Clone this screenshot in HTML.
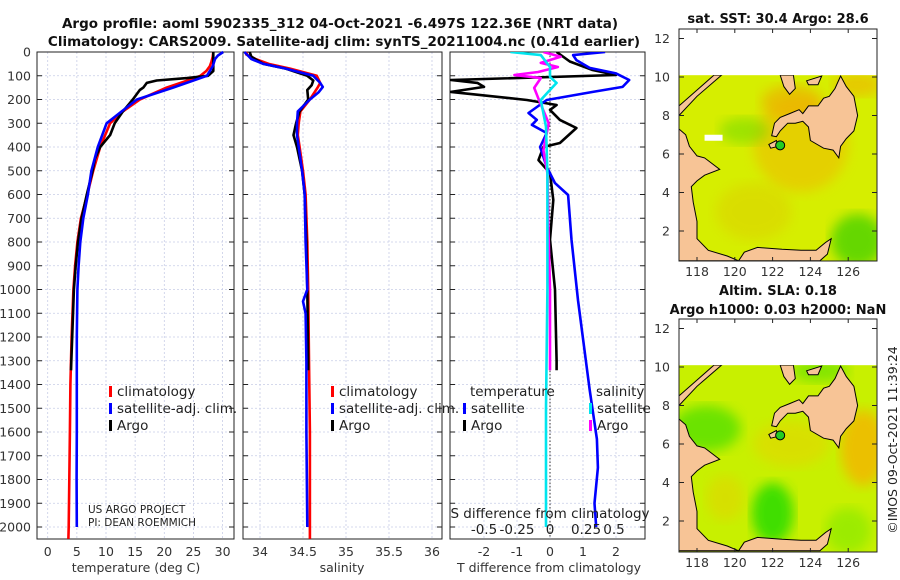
<!DOCTYPE html>
<html><head><meta charset="utf-8"><style>
html,body{margin:0;padding:0;background:#fff;}
svg{display:block;font-family:"DejaVu Sans","Liberation Sans",sans-serif;}
</style></head><body>
<svg id="fig" width="900" height="580" viewBox="0 0 900 580" xmlns="http://www.w3.org/2000/svg">
<text x="340" y="28" text-anchor="middle" font-size="13.5" font-weight="bold" fill="#111">Argo profile: aoml 5902335_312 04-Oct-2021 -6.497S 122.36E (NRT data)</text>
<text x="344" y="46" text-anchor="middle" font-size="13.5" font-weight="bold" fill="#111">Climatology: CARS2009. Satellite-adj clim: synTS_20211004.nc (0.41d earlier)</text>
<g id="panels"></g>
<g id="maps"></g>
<text transform="translate(897,440) rotate(-90)" font-size="12.5" fill="#222" text-anchor="middle">©IMOS 09-Oct-2021 11:39:24</text>
</svg>
<script>
// ---------- data ----------
const tempDepthClim = [0,20,40,60,80,100,120,150,200,250,300,400,500,600,700,800,900,1000,1200,1400,1600,1800,2000,2050];
const tempClim      = [28.4,28.3,28.1,27.8,27.2,26.2,24.0,20.4,15.8,12.9,10.7,9.0,7.8,6.8,5.7,5.1,4.7,4.4,4.1,3.9,3.8,3.7,3.6,3.55];
const tempDepthSat  = [0,15,30,60,100,120,150,200,250,300,400,500,600,700,800,900,1000,1200,1400,1600,1800,2000];
const tempSat       = [30.1,29.2,28.7,28.3,27.3,25.0,21.5,15.3,12.7,10.1,8.6,7.5,6.9,6.1,5.6,5.3,5.1,5.0,5.0,5.0,4.95,5.0];
const tempDepthArgo = [0,40,80,100,110,120,130,150,160,200,250,300,350,400,450,500,600,700,800,900,1000,1200,1340];
const tempArgo      = [28.4,28.4,28.4,27.5,23.9,18.7,17.0,16.4,15.8,14.6,12.9,11.5,10.7,9.0,8.1,7.7,6.7,5.8,5.2,4.8,4.5,4.2,4.0];

const salDepthClim = [0,10,30,50,70,100,130,150,200,250,300,350,400,500,600,800,1000,1300,1600,2000,2050];
const salClim      = [33.85,33.84,33.95,34.1,34.35,34.66,34.7,34.67,34.58,34.47,34.45,34.44,34.46,34.5,34.53,34.55,34.56,34.57,34.58,34.58,34.58];
const salDepthSat  = [0,30,50,70,100,130,147,170,200,250,300,350,400,500,600,800,1000,1050,1100,1300,1600,2000];
const salSat       = [33.82,33.9,34.04,34.3,34.62,34.7,34.73,34.68,34.58,34.44,34.43,34.43,34.45,34.49,34.52,34.53,34.55,34.5,34.53,34.54,34.54,34.55];
const salDepthArgo = [0,20,50,70,100,120,140,160,200,250,300,350,400,500,600,800,1000,1300,1340];
const salArgo      = [33.88,33.9,34.04,34.3,34.55,34.62,34.6,34.55,34.56,34.46,34.42,34.39,34.43,34.49,34.52,34.54,34.55,34.56,34.56];

const dTDepthSat  = [0,13,34,67,90,118,147,168,202,257,286,307,341,400,484,552,602,790,1045,1420,1630,1750,1900,2000];
const dTSat       = [1.67,0.7,0.8,1.2,2.0,2.4,2.2,1.3,-0.1,-0.65,-0.4,-0.55,-0.1,-0.3,-0.1,0.15,0.55,0.65,0.85,1.2,1.42,1.45,1.35,1.4];
const dTDepthArgo = [0,40,75,97,118,130,147,168,202,223,244,286,320,358,383,400,455,510,623,790,1000,1300,1340];
const dTArgo      = [0.2,0.6,1.27,2.0,-3.0,-2.2,-2.0,-3.0,-0.7,0.2,0.0,0.3,0.8,0.5,0.3,-0.2,-0.35,0.0,0.1,0.0,0.15,0.2,0.2];
const dSDepthSat  = [0,13,63,105,130,172,202,315,510,1000,1500,2000];
const dSSat       = [-0.3,-0.07,0.0,0.0,0.05,-0.02,-0.07,-0.03,-0.02,-0.02,-0.03,-0.03];
const dSDepthArgo = [0,20,46,63,84,97,110,151,193,300,413,510,790,1000,1340];
const dSArgo      = [-0.05,0.08,-0.07,0.06,-0.09,-0.27,-0.07,-0.12,-0.09,-0.01,-0.05,-0.02,-0.01,0.0,0.0];

const depthTicks = [0,100,200,300,400,500,600,700,800,900,1000,1100,1200,1300,1400,1500,1600,1700,1800,1900,2000];
const tempTicks = [0,5,10,15,20,25,30];
const salTicks = ["34","34.5","35","35.5","36"];
const dTTicks = [-2,-1,0,1,2];
const dSTicks = ["-0.5","-0.25","0","0.25","0.5"];

// ---------- helpers ----------
const NS="http://www.w3.org/2000/svg";
function mk(tag,attrs,parent){const e=document.createElementNS(NS,tag);for(const k in attrs)e.setAttribute(k,attrs[k]);parent.appendChild(e);return e;}
const Y0=52, PXD=0.2375, YB=539;
const yD = d => Y0 + d*PXD;
const panels=document.getElementById('panels');

function axesBox(x0,x1,vtickXs,name){
  const g=mk('g',{},panels);
  
  
  depthTicks.forEach(d=>{mk('line',{x1:x0,x2:x1,y1:yD(d),y2:yD(d),stroke:'#c8cde6','stroke-width':0.8,'stroke-dasharray':'2,2'},g);
    mk('line',{x1:x0,x2:x0+5,y1:yD(d),y2:yD(d),stroke:'#222'},g);mk('line',{x1:x1-5,x2:x1,y1:yD(d),y2:yD(d),stroke:'#222'},g);});
  vtickXs.forEach(x=>{mk('line',{x1:x,x2:x,y1:Y0,y2:YB,stroke:'#c8cde6','stroke-width':0.8,'stroke-dasharray':'2,2'},g);});
  mk('rect',{x:x0,y:Y0,width:x1-x0,height:YB-Y0,fill:'none',stroke:'#222','stroke-width':1},g);
  return g;
}
function line(g,xs,ds,xf,color,name,w){
  const pts=xs.map((v,i)=>xf(v).toFixed(1)+','+yD(ds[i]).toFixed(1)).join(' ');
  const p=mk('polyline',{points:pts,fill:'none',stroke:color,'stroke-width':w||2.6,'stroke-linejoin':'round'},g);
  
  
}
function txt(g,x,y,s,opt){const t=mk('text',Object.assign({x:x,y:y,'font-size':12.5,fill:'#333'},opt||{}),g);t.textContent=s;return t;}

// y tick labels
depthTicks.forEach(d=>{const t=txt(panels,31,yD(d)+4.5,String(d),{'text-anchor':'end'});
  
  });

// Panel 1 temperature
const xT = v => 47.7 + v*5.83;
const g1=axesBox(37,234,tempTicks.map(xT),'temperature-panel');
line(g1,tempClim,tempDepthClim,xT,'#ff0000','temp-climatology-line');
line(g1,tempArgo,tempDepthArgo,xT,'#000000','temp-argo-line');
line(g1,tempSat,tempDepthSat,xT,'#0000ff','temp-satellite-line');
tempTicks.forEach(v=>txt(g1,xT(v),556,String(v),{'text-anchor':'middle'}));
txt(g1,136,572,'temperature (deg C)',{'text-anchor':'middle'});
function legend(g,x,y,color,label,name){
  const r=mk('rect',{x:x,y:y-10,width:3,height:11,fill:color},g);
  
  
  const t=txt(g,x+8,y,label,{'font-size':13.5,fill:'#222'});
  
  
}
legend(g1,109,396,'#ff0000','climatology','legend-climatology');
legend(g1,109,413,'#0000ff','satellite-adj. clim.','legend-satellite');
legend(g1,109,430,'#000000','Argo','legend-argo');
txt(g1,88,513,'US ARGO PROJECT',{'font-size':10.5,fill:'#222'});
txt(g1,88,526,'PI: DEAN ROEMMICH',{'font-size':10.5,fill:'#222'});

// Panel 2 salinity
const xS = v => 260 + (v-34)*86;
const g2=axesBox(243,442,salTicks.map(s=>xS(+s)),'salinity-panel');
line(g2,salClim,salDepthClim,xS,'#ff0000','sal-climatology-line');
line(g2,salArgo,salDepthArgo,xS,'#000000','sal-argo-line');
line(g2,salSat,salDepthSat,xS,'#0000ff','sal-satellite-line');
salTicks.forEach(v=>txt(g2,xS(+v),556,v,{'text-anchor':'middle'}));
txt(g2,342,572,'salinity',{'text-anchor':'middle'});
legend(g2,331,396,'#ff0000','climatology','legend-climatology-2');
legend(g2,331,413,'#0000ff','satellite-adj. clim.','legend-satellite-2');
legend(g2,331,430,'#000000','Argo','legend-argo-2');

// Panel 3 differences
const xdT = v => 550 + v*33;
const xdS = v => 550 + v*132;
const g3=axesBox(450,645,dTTicks.map(xdT),'difference-panel');
const zl=mk('line',{x1:550,x2:550,y1:Y0,y2:YB,stroke:'#333','stroke-width':1,'stroke-dasharray':'1.5,2'},g3);


const clip=mk('clipPath',{id:'c3'},g3);mk('rect',{x:450,y:Y0,width:195,height:YB-Y0},clip);
const g3c=mk('g',{'clip-path':'url(#c3)'},g3);
line(g3c,dTArgo,dTDepthArgo,xdT,'#000000','dT-argo-line');
line(g3c,dTSat,dTDepthSat,xdT,'#0000ff','dT-satellite-line');
line(g3c,dSArgo,dSDepthArgo,xdS,'#ff00ff','dS-argo-line');
line(g3c,dSSat,dSDepthSat,xdS,'#00e5ee','dS-satellite-line');
dTTicks.forEach(v=>txt(g3,xdT(v),556,String(v),{'text-anchor':'middle'}));
txt(g3,549,572,'T difference from climatology',{'text-anchor':'middle'});
txt(g3,550,518,'S difference from climatology',{'text-anchor':'middle','font-size':13.5,fill:'#222'});
dSTicks.forEach((v,i)=>txt(g3,[484,517,550,586,614][i],534,v,{'text-anchor':'middle','font-size':13.5,fill:'#222'}));
txt(g3,470,396,'temperature',{'font-size':13.5,fill:'#222'});
txt(g3,596,396,'salinity',{'font-size':13.5,fill:'#222'});
legend(g3,463,413,'#0000ff','satellite','legend-t-satellite');
legend(g3,463,430,'#000000','Argo','legend-t-argo');
legend(g3,589,413,'#00e5ee','satellite','legend-s-satellite');
legend(g3,589,430,'#ff00ff','Argo','legend-s-argo');

// ---------- maps ----------
const maps=document.getElementById('maps');
const landPolys=[
 [[117.05,8.0],[117.05,8.5],[118.9,10.1],[119.3,10.1],[118.0,9.0]],
 [[117.05,7.3],[117.4,7.0],[117.6,6.4],[118.0,5.9],[118.4,5.8],[119.2,5.2],[118.4,4.9],[118.0,4.6],[117.7,4.3],[117.8,3.5],[118.0,2.5],[118.0,1.6],[118.6,1.0],[119.6,0.7],[120.2,0.45],[117.05,0.45]],
 [[120.2,0.45],[120.5,0.9],[121.2,1.15],[122.5,1.05],[123.5,1.0],[124.3,1.0],[124.8,1.4],[125.1,1.6],[124.9,0.8],[124.5,0.45]],
 [[121.95,6.95],[122.1,7.6],[122.4,7.9],[122.9,8.1],[123.4,8.3],[123.6,8.1],[123.9,8.5],[124.4,8.5],[124.7,8.9],[125.0,9.0],[125.3,9.4],[125.6,10.05],[125.9,9.5],[126.3,9.0],[126.5,8.0],[126.3,7.2],[125.9,6.8],[125.6,6.4],[125.5,5.8],[125.2,6.2],[124.7,6.3],[124.0,6.7],[123.9,7.4],[123.6,7.7],[123.2,7.6],[122.8,7.6],[122.4,7.2],[122.2,6.9]],
 [[122.4,10.1],[122.6,9.5],[122.9,9.1],[123.2,9.4],[123.1,10.1]],
 [[123.8,9.8],[124.6,10.05],[124.4,9.6],[123.9,9.6]],
 [[121.8,6.5],[122.2,6.7],[122.3,6.4],[121.9,6.3]]
];
const mapSpecs=[
 {name:'sst-map',y10:77,top:29,bottom:261,base:'#d6ee00',blobs:[['#f0b800',123.5,6.5,2.5,2.5,0.55],['#f0a800',123,8.7,1.6,0.9,0.6],['#f0b000',126.5,9.6,1.3,0.6,0.6],['#40d000',126.5,1.5,1.4,1.4,0.75],['#66d800',120.5,7.2,1.3,0.7,0.5],['#e0c000',121,3,2,1.5,0.35]]},
 {name:'sla-map',y10:367,top:319,bottom:552,base:'#c8f000',blobs:[['#33dd00',122,2.4,1.1,1.6,0.9],['#55e000',118.5,6.8,1.8,1.2,0.8],['#f2b800',126.8,5.8,1.2,2.0,0.85],['#e8d000',123,6,2,1.2,0.5],['#66e000',124.5,9.8,1.5,0.6,0.7],['#e8cc00',119.5,3.2,1,1.2,0.45],['#80e800',126,1.5,1.2,1.2,0.6]]}
];
const mx = lon => 697 + (lon-118)*18.9;
mapSpecs.forEach((m,mi)=>{
  const g=mk('g',{},maps);
  
  
  const my = lat => m.y10 + (10-lat)*19.25;
  const cid='mc'+mi;
  const cp=mk('clipPath',{id:cid},g);mk('rect',{x:679,y:my(10.1),width:198,height:m.bottom-my(10.1)},cp);
  const gd=mk('g',{'clip-path':'url(#'+cid+')'},g);
  mk('rect',{x:679,y:my(10.1),width:198,height:m.bottom-my(10.1),fill:m.base},gd);
  const f=mk('filter',{id:'bl'+mi},g);mk('feGaussianBlur',{stdDeviation:6},f);
  m.blobs.forEach(b=>mk('ellipse',{cx:mx(b[1]),cy:my(b[2]),rx:b[3]*19,ry:b[4]*19,fill:b[0],opacity:b[5],filter:'url(#bl'+mi+')'},gd));
  landPolys.forEach(p=>{const el=mk('polygon',{points:p.map(q=>mx(q[0]).toFixed(1)+','+my(q[1]).toFixed(1)).join(' '),fill:'#f7c496',stroke:'#000','stroke-width':1},gd);
    
    });
  if(mi===0) mk('rect',{x:mx(118.4),y:my(7),width:18,height:6,fill:'#fff'},gd);
  const pt=mk('circle',{cx:mx(122.4),cy:my(6.45),r:4.5,fill:'#22cc22',stroke:'#000','stroke-width':1},g);
  
  
  mk('rect',{x:679,y:m.top,width:198,height:m.bottom-m.top,fill:'none',stroke:'#222'},g);
  [2,4,6,8,10,12].forEach(l=>{mk('line',{x1:679,x2:684,y1:my(l),y2:my(l),stroke:'#222'},g);mk('line',{x1:872,x2:877,y1:my(l),y2:my(l),stroke:'#222'},g);
    txt(g,670,my(l)+4.5,String(l),{'text-anchor':'end'});});
  [118,120,122,124,126].forEach(l=>{mk('line',{x1:mx(l),x2:mx(l),y1:m.bottom,y2:m.bottom-4,stroke:'#222'},g);mk('line',{x1:mx(l),x2:mx(l),y1:m.top,y2:m.top+4,stroke:'#222'},g);
    txt(g,mx(l),m.bottom+15,String(l),{'text-anchor':'middle'});});
});
const t1=txt(maps,778,23,'sat. SST: 30.4 Argo: 28.6',{'text-anchor':'middle','font-weight':'bold','font-size':13,fill:'#111'});


const t2=txt(maps,778,295,'Altim. SLA: 0.18',{'text-anchor':'middle','font-weight':'bold','font-size':13,fill:'#111'});


const t3=txt(maps,778,314,'Argo h1000: 0.03 h2000: NaN',{'text-anchor':'middle','font-weight':'bold','font-size':13,fill:'#111'});


</script>
</body></html>
